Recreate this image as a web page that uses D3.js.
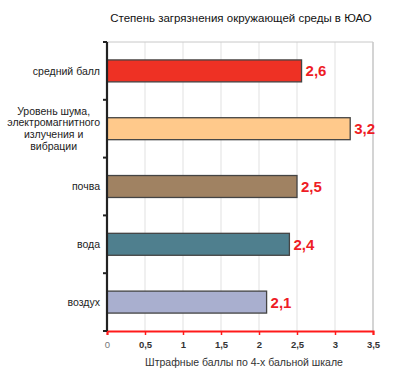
<!DOCTYPE html>
<html>
<head>
<meta charset="utf-8">
<script src="https://cdn.jsdelivr.net/npm/d3@7"></script>
<style>
  body { margin: 0; background: #fff; }
  text { font-family: "Liberation Sans", Arial, sans-serif; }
</style>
</head>
<body>
<div id="chart"></div>
<script>
// Chart size and plot area
const width = 395;
const height = 385;
const margin = {left: 107, right: 22, top: 42, bottom: 54};

// Data, top to bottom
const categories = ["средний балл", "Уровень шума,|электромагнитного|излучения и|вибрации", "почва", "вода", "воздух"];
const values = [2.56, 3.2, 2.5, 2.4, 2.1];
const colors = ["#ee3124", "#ffc98b", "#a08262", "#4f7f8e", "#a9afcf"];
const xTicks = [0, 0.5, 1, 1.5, 2, 2.5, 3, 3.5];
const titleText = "Степень загрязнения окружающей среды в ЮАО";
const xTitle = "Штрафные баллы по 4-х бальной шкале";

const svg = d3.select("#chart")
  .append("svg")
  .attr("width", width)
  .attr("height", height);

const x = d3.scaleLinear()
  .domain([0, 3.5])
  .range([margin.left, width - margin.right]);

const y = d3.scaleBand()
  .domain(d3.range(categories.length))
  .range([margin.top, height - margin.bottom])
  .paddingInner(0.62)
  .paddingOuter(0.31);

const comma = v => d3.format(".1f")(v).replace(".", ",");
const plotTop = margin.top, plotBottom = height - margin.bottom;

// Gridlines
svg.append("g")
  .selectAll("line")
  .data(xTicks.slice(1))
  .join("line")
  .attr("x1", d => x(d)).attr("x2", d => x(d))
  .attr("y1", plotTop).attr("y2", plotBottom)
  .attr("stroke", d => d === 3.5 ? "#b8b8b8" : "#e6e6e6")
  .attr("stroke-width", 1.2);

svg.append("line")
  .attr("x1", x(0)).attr("x2", x(3.5))
  .attr("y1", plotTop).attr("y2", plotTop)
  .attr("stroke", "#c8c8c8");

// Bars
svg.selectAll(".bar")
  .data(values)
  .join("rect")
  .attr("class", "bar")
  .attr("x", x(0))
  .attr("y", (d, i) => y(i))
  .attr("width", d => x(d) - x(0))
  .attr("height", y.bandwidth())
  .attr("fill", (d, i) => colors[i])
  .attr("stroke", "#444")
  .attr("stroke-width", 1.3);

// Value labels
svg.selectAll(".val")
  .data(values)
  .join("text")
  .attr("class", "val")
  .attr("x", d => x(d) + 4)
  .attr("y", (d, i) => y(i) + y.bandwidth() / 2)
  .attr("dy", "0.36em")
  .attr("fill", "#ee1c25")
  .attr("font-size", "15px")
  .attr("font-weight", "bold")
  .text(d => comma(d));

// Bottom axis (red)
const xAxis = svg.append("g")
  .attr("transform", `translate(0,${plotBottom})`)
  .call(d3.axisBottom(x).tickValues(xTicks).tickSize(4).tickFormat(d => d === 0 ? "0" : comma(d).replace(",0", "")));
xAxis.select(".domain").attr("stroke", "#ff1a1a").attr("stroke-width", 2);
xAxis.selectAll(".tick line").attr("stroke", "#ff1a1a").attr("stroke-width", 1.5);
xAxis.selectAll(".tick text")
  .attr("y", 10)
  .attr("font-size", "9.5px")
  .attr("font-weight", d => d === 0 ? "normal" : "bold")
  .attr("fill", d => d === 0 ? "#777" : "#333");

// Left axis (black) with ticks at band boundaries
const step = y.step();
const bounds = d3.range(categories.length + 1).map(i => plotTop + i * step);
svg.append("line")
  .attr("x1", x(0)).attr("x2", x(0))
  .attr("y1", plotTop).attr("y2", plotBottom)
  .attr("stroke", "#222").attr("stroke-width", 2.2);
svg.append("g")
  .selectAll("line")
  .data(bounds)
  .join("line")
  .attr("x1", x(0) - 4).attr("x2", x(0))
  .attr("y1", d => d).attr("y2", d => d)
  .attr("stroke", "#222").attr("stroke-width", 2);

// Category labels
categories.forEach((c, i) => {
  const lines = c.split("|");
  const cy = y(i) + y.bandwidth() / 2;
  const t = svg.append("text")
    .attr("font-size", "10.5px")
    .attr("fill", "#222")
    .attr("text-anchor", "middle");
  lines.forEach((l, k) => {
    t.append("tspan")
      .attr("y", cy + (k - (lines.length - 1) / 2) * 11.9)
      .attr("dy", "0.35em")
      .text(l);
  });
  // right-align the block against the axis, lines centred within it
  let w = 0;
  t.selectAll("tspan").each(function() { w = Math.max(w, this.getComputedTextLength()); });
  t.selectAll("tspan").attr("x", x(0) - 7 - w / 2);
});

// Titles
svg.append("text")
  .attr("x", 241).attr("y", 22)
  .attr("text-anchor", "middle")
  .attr("font-size", "11.5px")
  .attr("fill", "#111")
  .text(titleText);

svg.append("text")
  .attr("x", 244).attr("y", 366)
  .attr("text-anchor", "middle")
  .attr("font-size", "10.5px")
  .attr("fill", "#333")
  .text(xTitle);
</script>
</body>
</html>
